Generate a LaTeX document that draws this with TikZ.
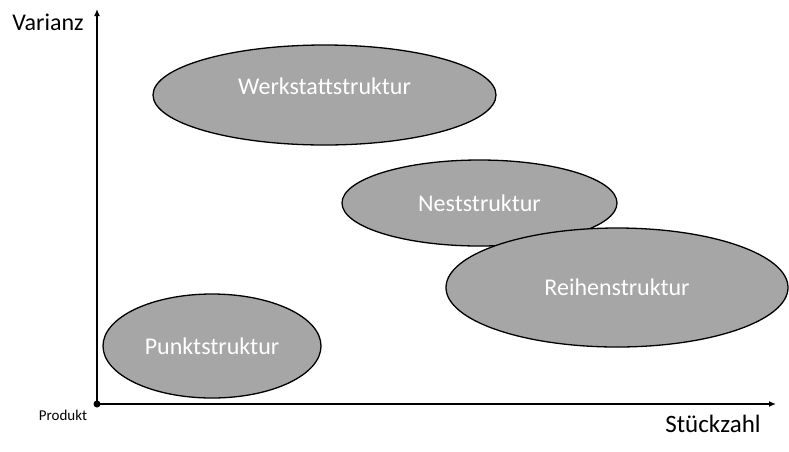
\documentclass[tikz,border=0pt]{standalone}
\usepackage{fontspec}
\setmainfont{Carlito}
\usetikzlibrary{shapes.geometric}
\usetikzlibrary{arrows.meta}

\begin{document}
\begin{tikzpicture}[x=1pt, y=-1pt, % pixel units, y runs downwards
                    line join=round, line cap=round,
                    struktur/.style = {ellipse, draw=black, line width=1.3pt, fill=black!35,
                                       inner sep=0pt, text=white, font=\fontsize{24}{28}\selectfont},
                    achse/.style = {line width=1.6pt, -{Latex[length=7pt,width=6pt]}}
                   ]
  \useasboundingbox (0,0) rectangle (789,451);
  % axes
  \node[circle, fill=black, inner sep=0pt, minimum size=7pt] (ursprung) at (97,404) {};
  \coordinate (yende) at (97,9);
  \coordinate (xende) at (776,404);
  \draw[achse] (ursprung.center) -- (yende);
  \draw[achse] (ursprung.center) -- (xende);
  \node[font=\fontsize{24}{28}\selectfont] (varianz) at (48,22) {Varianz};
  \node[font=\fontsize{25}{29}\selectfont] (stueckzahl) at (713,424) {Stückzahl};
  \node[font=\fontsize{15}{18}\selectfont] (produkt) at (63,415) {Produkt};
  % structures
  \node[struktur, minimum width=343pt, minimum height=100pt,
        label={[text=white, font=\fontsize{24}{28}\selectfont, yshift=9pt]center:Werkstattstruktur}]
        (werkstatt) at (324.5,95) {};
  \node[struktur, minimum width=275pt, minimum height=86pt] (nest) at (479.5,203) {Neststruktur};
  \node[struktur, minimum width=342pt, minimum height=119pt] (reihe) at (617,287.5) {Reihenstruktur};
  \node[struktur, minimum width=218pt, minimum height=104pt] (punkt) at (212,346) {Punktstruktur};
\end{tikzpicture}
\end{document}
